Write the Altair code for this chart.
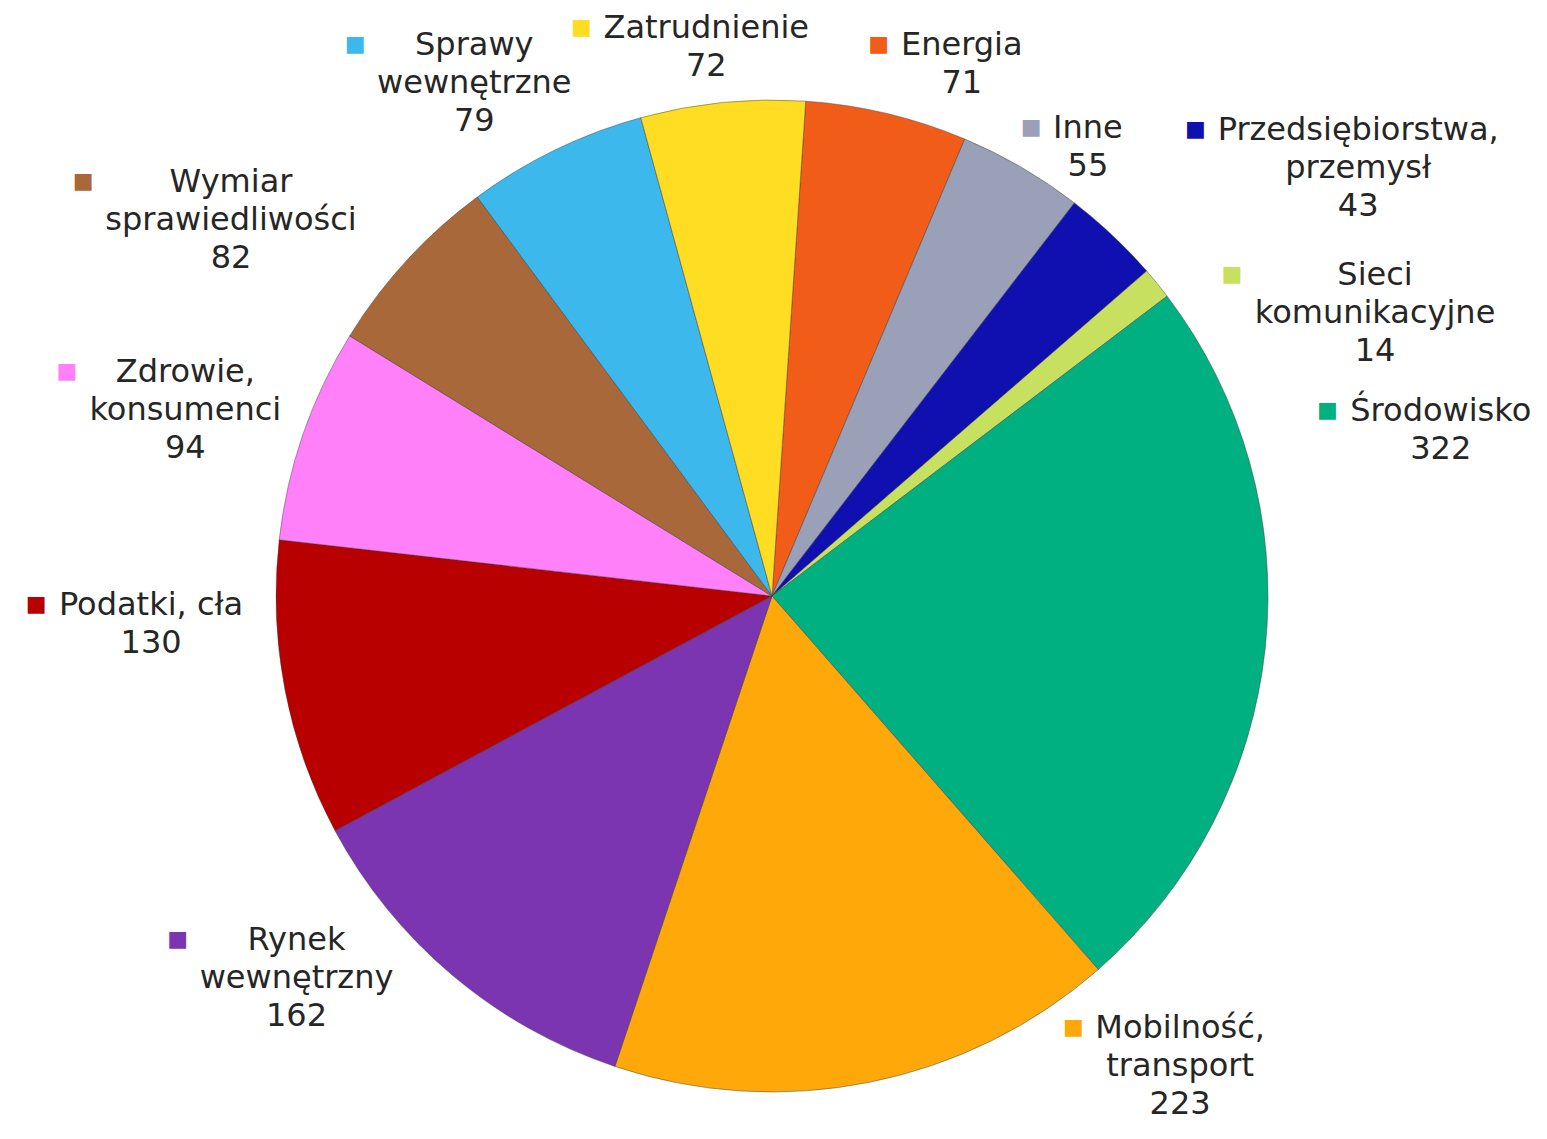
import math
import altair as alt
import pandas as pd

# ---------------- data ----------------
categories = [
    "Energia", "Inne", "Przedsiębiorstwa, przemysł", "Sieci komunikacyjne",
    "Środowisko", "Mobilność, transport", "Rynek wewnętrzny", "Podatki, cła",
    "Zdrowie, konsumenci", "Wymiar sprawiedliwości", "Sprawy wewnętrzne",
    "Zatrudnienie",
]
values = [71, 55, 43, 14, 322, 223, 162, 130, 94, 82, 79, 72]
name_lines = [
    ["Energia"], ["Inne"], ["Przedsiębiorstwa,", "przemysł"],
    ["Sieci", "komunikacyjne"], ["Środowisko"], ["Mobilność,", "transport"],
    ["Rynek", "wewnętrzny"], ["Podatki, cła"], ["Zdrowie,", "konsumenci"],
    ["Wymiar", "sprawiedliwości"], ["Sprawy", "wewnętrzne"], ["Zatrudnienie"],
]
colors = [
    "#F25C19", "#9AA0B8", "#1010B0", "#C8E060", "#00B080", "#FFA80A",
    "#7B35B0", "#B80000", "#FF80F8", "#A8683A", "#3CB8EC", "#FFDD22",
]

# ---------------- label layout (annotation placement of first line) ----------------
# polar: degrees clockwise from 12 o'clock, px from the pie centre
label_angle_deg = [19.0, 34.0, 51.5, 62.0, 74.5, 136.6, 234.1, 269.2, 290.9, 307.4, 331.6, 353.4]
label_dist = [583, 565, 749, 683, 694, 594, 587, 621, 628, 681, 626, 572]

CX, CY = 764, 588          # pie centre inside the chart
R = 496                    # pie radius
START = math.radians(3.9)  # first slice starts slightly right of 12 o'clock
FS, LH = 32, 38            # label font size / line height
FM = 22                    # marker font size
GAP = 22                   # marker centre distance from text block

# approximate DejaVu Sans advance widths (units per em = 2048)
W = {" ": 651, ",": 651, ".": 651, "A": 1401, "E": 1294, "I": 604, "M": 1767,
     "P": 1235, "R": 1423, "S": 1300, "Ś": 1300, "W": 2025, "Z": 1405,
     "a": 1255, "ą": 1255, "b": 1300, "c": 1126, "ć": 1126, "d": 1300,
     "e": 1260, "ę": 1260, "f": 721, "g": 1300, "h": 1298, "i": 569,
     "j": 569, "k": 1186, "l": 569, "ł": 600, "m": 1995, "n": 1298,
     "ń": 1298, "o": 1253, "ó": 1253, "p": 1300, "r": 842, "s": 1067,
     "ś": 1067, "t": 803, "u": 1298, "w": 1675, "y": 1212, "z": 1075,
     "ż": 1075}
for d in "0123456789":
    W[d] = 1303


def text_width(s, fs):
    return sum(W.get(ch, 1250) for ch in s) / 2048 * fs


rows = []
block_widths = []
for i, (cat, val, lines) in enumerate(zip(categories, values, name_lines)):
    all_lines = lines + [str(val)]
    block_widths.append(max(text_width(l, FS) for l in all_lines))
    rows.append({
        "idx": i,
        "cat": cat,
        "value": val,
        "label": "\n".join(all_lines),
        "marker": "■",
        "lang": math.radians(label_angle_deg[i]),
        "ldist": label_dist[i],
    })
df = pd.DataFrame(rows)

color_scale = alt.Scale(domain=categories, range=colors)
base = alt.Chart(df)

pie = base.mark_arc(
    outerRadius=R, stroke="#3a3a3a", strokeWidth=1, strokeOpacity=0.45
).encode(
    theta=alt.Theta("value:Q", stack=True,
                    scale=alt.Scale(range=[START, START + 2 * math.pi])),
    color=alt.Color("cat:N", scale=color_scale, legend=None),
    order=alt.Order("idx:Q"),
    x=alt.value(CX),
    y=alt.value(CY),
)

labels = base.mark_text(
    font="DejaVu Sans", fontSize=FS, lineHeight=LH, lineBreak="\n",
    align="center", baseline="middle", color="#262626",
).encode(
    theta=alt.Theta("lang:Q", scale=None, stack=False),
    radius=alt.Radius("ldist:Q", scale=None),
    text="label:N",
    x=alt.value(CX),
    y=alt.value(CY),
)

marker_layers = []
for i, bw in enumerate(block_widths):
    marker_layers.append(
        base.transform_filter(alt.datum.idx == i).mark_text(
            font="DejaVu Sans", fontSize=FM, align="center", baseline="middle",
            dx=-(bw / 2 + GAP), dy=-1,
        ).encode(
            theta=alt.Theta("lang:Q", scale=None, stack=False),
            radius=alt.Radius("ldist:Q", scale=None),
            text="marker:N",
            color=alt.Color("cat:N", scale=color_scale, legend=None),
            x=alt.value(CX),
            y=alt.value(CY),
        )
    )

chart = alt.layer(pie, labels, *marker_layers).resolve_scale(
    theta="independent", radius="independent"
).properties(
    width=1531, height=1123,
    autosize=alt.AutoSizeParams(type="none"),
    padding=0,
).configure_view(strokeWidth=0)

chart.save("out.html", embed_options={"renderer": "svg", "actions": False})
